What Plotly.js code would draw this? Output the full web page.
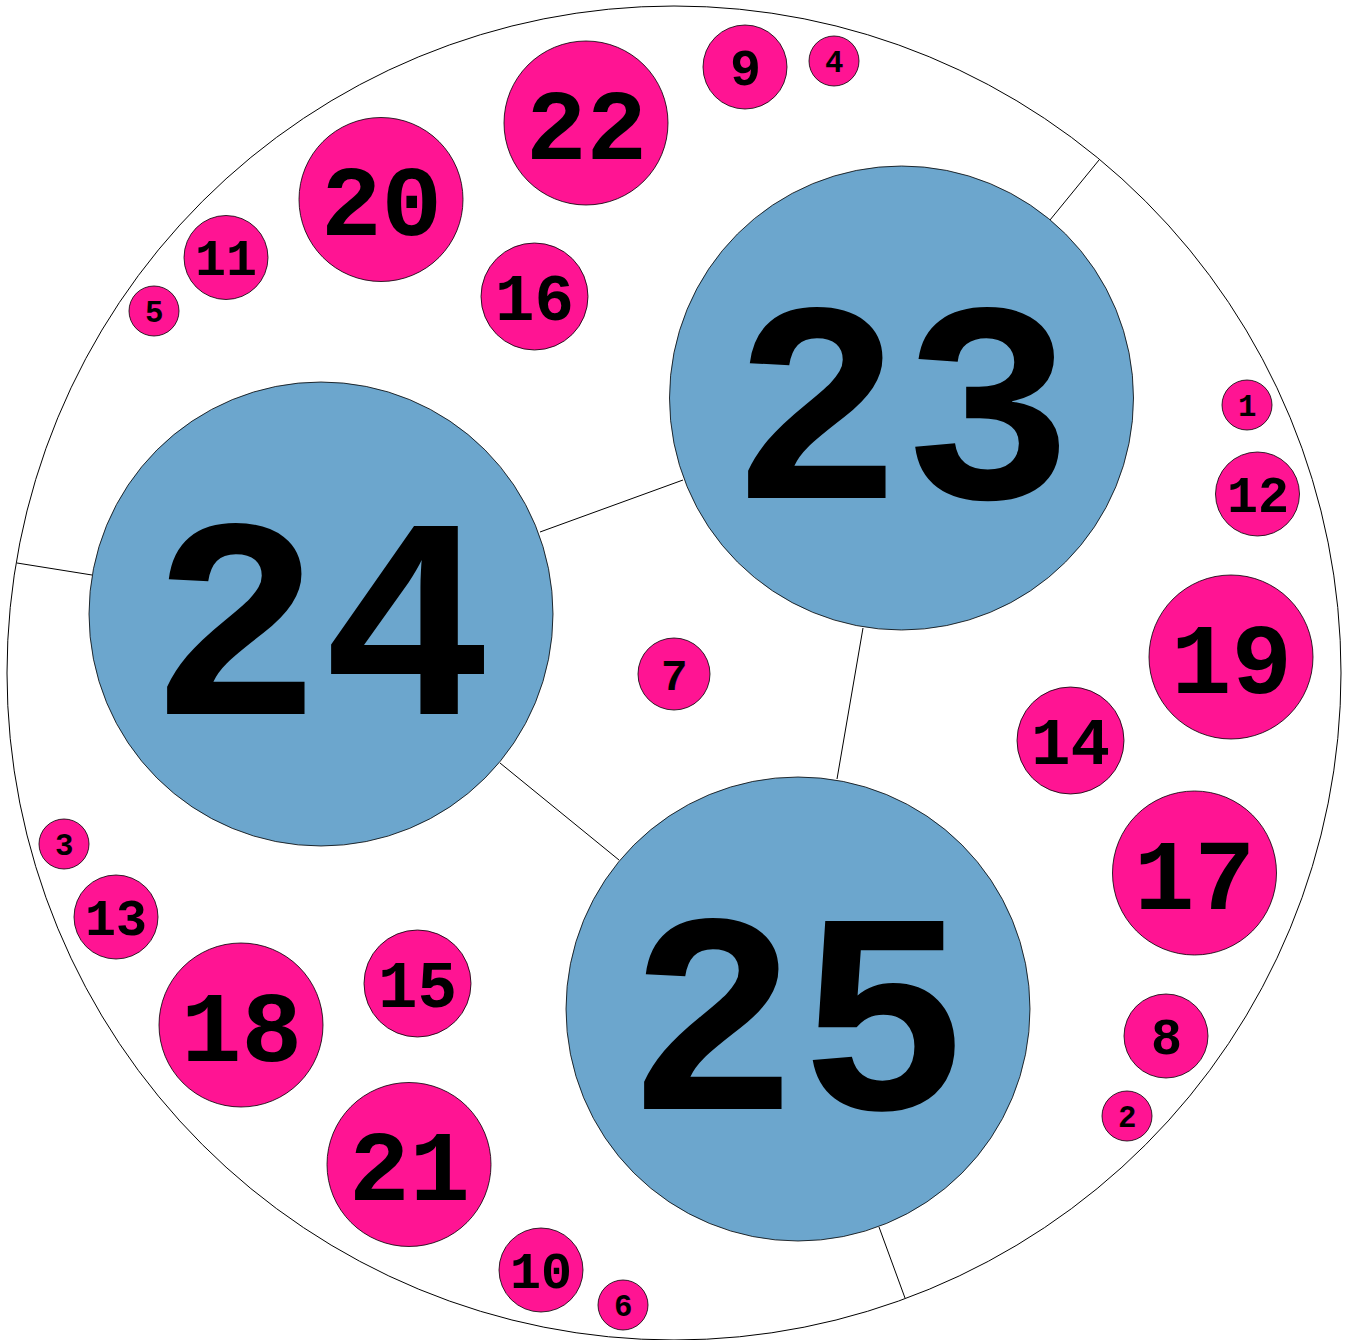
<!DOCTYPE html>
<html>
<head>
<meta charset="utf-8">
<script src="https://cdn.plot.ly/plotly-3.0.1.min.js"></script>
<style>html,body{margin:0;padding:0;background:#fff;}#chart{width:1347px;height:1340px;}</style>
</head>
<body>
<div id="chart"></div>
<script>
// Circle labels (node ids)
const labels = ["1","2","3","4","5","6","7","8","9","10","11","12","13","14","15","16","17","18","19","20","21","22","23","24","25"];
// Circle centres (x, y) and radii
const centerX = [1247,1127,64,834,154,623,674,1166,745,541,226,1257.5,116,1070.5,417.5,534.5,1194.5,241,1231,381,409,586,901.5,321,798];
const centerY = [405,1116,844,61,311,1305,674,1036,67,1270,257.5,494,917,740.5,983.5,296.5,873,1025,657,199.5,1164.5,123,398,614,1009];
const radius  = [25,25,25,25,25,25,36,42,42,42,42,42,42,53.5,53.5,53.5,82,82,82,82,82,82,232,232,232];
// group: 0 = small (pink) node, 1 = large (blue) node
const group   = [0,0,0,0,0,0,0,0,0,0,0,0,0,0,0,0,0,0,0,0,0,0,1,1,1];

// Enclosing circle
const outerX = 674, outerY = 673, outerR = 667;

// Dividing segments (start x, start y, end x, end y)
const segX0 = [1050, 540, 92, 863, 500, 879];
const segY0 = [220, 532, 575, 628, 763, 1227];
const segX1 = [1099, 683, 17, 837, 619, 905];
const segY1 = [160, 480, 563, 779, 860, 1298];

const groupColors = ["#FF1493", "#6CA6CD"];

const shapes = [];
shapes.push({type:"circle", xref:"x", yref:"y", layer:"below",
  x0: outerX - outerR, x1: outerX + outerR, y0: outerY - outerR, y1: outerY + outerR,
  line:{color:"#000", width:1}, fillcolor:"rgba(0,0,0,0)"});
for (let i = 0; i < segX0.length; i++) {
  shapes.push({type:"line", xref:"x", yref:"y", layer:"below",
    x0: segX0[i], y0: segY0[i], x1: segX1[i], y1: segY1[i],
    line:{color:"#000", width:1}});
}
for (let i = 0; i < labels.length; i++) {
  shapes.push({type:"circle", xref:"x", yref:"y", layer:"below",
    x0: centerX[i] - radius[i], x1: centerX[i] + radius[i],
    y0: centerY[i] - radius[i], y1: centerY[i] + radius[i],
    line:{color:"#000", width:0.8}, fillcolor: groupColors[group[i]]});
}

const annotations = labels.map((t, i) => {
  const fs = radius[i] * 1.23;
  return {
    x: centerX[i], y: centerY[i], xref: "x", yref: "y",
    text: t, showarrow: false,
    xanchor: "center", yanchor: "middle",
    yshift: -0.085 * fs,
    font: {family: "Liberation Mono, Courier New, monospace", weight: "bold", color: "#000", size: fs}
  };
});

const layout = {
  width: 1347, height: 1340,
  margin: {l:0, r:0, t:0, b:0, pad:0},
  paper_bgcolor: "#fff", plot_bgcolor: "#fff",
  xaxis: {range:[0,1347], visible:false, fixedrange:true},
  yaxis: {range:[1340,0], visible:false, fixedrange:true},
  shapes: shapes,
  annotations: annotations,
  showlegend: false
};

// invisible anchor trace so the data axes exist
const anchorTrace = {type:"scatter", mode:"markers", x: centerX, y: centerY,
  marker:{size:1, opacity:0}, hoverinfo:"skip", showlegend:false};

Plotly.newPlot("chart", [anchorTrace], layout, {staticPlot:true, displayModeBar:false});
</script>
</body>
</html>
